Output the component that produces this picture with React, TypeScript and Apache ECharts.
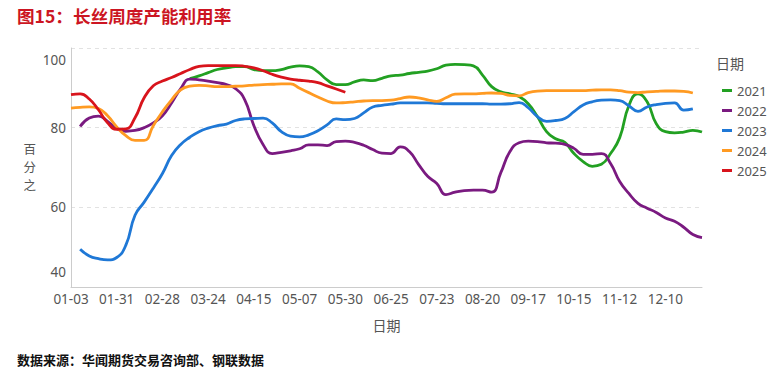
import React, { useEffect, useRef } from 'react';
import * as echarts from 'echarts';

const categories = [
  '01-03', '01-07', '01-13', '01-19', '01-25',
  '01-31', '02-06', '02-11', '02-17', '02-23',
  '02-28', '03-03', '03-09', '03-14', '03-19',
  '03-24', '03-28', '04-01', '04-06', '04-11',
  '04-15', '04-19', '04-24', '04-28', '05-02',
  '05-07', '05-11', '05-16', '05-21', '05-25',
  '05-30', '06-04', '06-09', '06-14', '06-20',
  '06-25', '07-01', '07-06', '07-12', '07-17',
  '07-23', '07-29', '08-03', '08-09', '08-14',
  '08-20', '08-26', '08-31', '09-06', '09-11',
  '09-17', '09-23', '09-28', '10-04', '10-09',
  '10-15', '10-21', '10-26', '11-01', '11-06',
  '11-12', '11-18', '11-23', '11-29', '12-04',
  '12-10', '12-16', '12-21', '12-27', '12-31',
];

const years = ['2021', '2022', '2023', '2024', '2025'];
const colors = ['#22a022', '#7a1a80', '#1f78d6', '#ff9a22', '#d8141c'];

// first category index where each series begins
const start2021 = 13;
const values2021 = [
  92.3, 93.0, 93.8, 94.6, 95.0, 95.3, 95.3, 94.6, 94.3, 94.3,
  94.6, 95.2, 95.5, 95.3, 94.0, 92.0, 90.8, 90.8, 91.5, 92.0,
  91.8, 92.4, 93.0, 93.2, 93.6, 93.9, 94.2, 94.8, 95.7, 95.9,
  95.8, 95.5, 93.2, 90.3, 89.0, 88.5, 87.8, 86.0, 82.8, 79.0,
  77.2, 76.3, 73.5, 71.5, 70.3, 70.8, 73.5, 77.5, 85.5, 88.5,
  86.5, 81.0, 79.0, 78.7, 78.9, 79.3, 78.9,
];

const start2022 = 1;
const values2022 = [
  80.3, 82.4, 82.9, 81.6, 79.8, 79.1, 79.3, 80.0, 81.2,
  83.0, 86.2, 89.8, 92.2, 92.0, 91.7, 91.3, 90.8, 89.8, 87.0,
  80.5, 75.8, 73.5, 73.8, 74.2, 74.7, 75.7, 75.7, 75.5, 76.5,
  76.6, 76.3, 75.6, 74.5, 73.6, 73.5, 75.2, 74.0, 70.8, 67.8,
  66.0, 63.2, 63.8, 64.2, 64.3, 64.3, 63.8, 68.7, 74.0, 76.2,
  76.6, 76.5, 76.2, 76.1, 75.8, 74.8, 73.3, 73.3, 73.5, 71.0,
  66.5, 63.5, 61.0, 59.8, 58.7, 57.3, 56.5, 55.0, 53.2, 52.4,
];

const start2023 = 1;
const values2023 = [
  49.5, 47.8, 47.1, 46.8, 47.4, 50.5, 58.0, 61.3, 64.8,
  68.5, 73.0, 75.8, 77.6, 79.0, 79.9, 80.5, 80.9, 81.8, 82.2,
  82.3, 82.4, 81.2, 79.0, 77.9, 77.7, 78.2, 79.2, 80.7, 82.2,
  82.0, 82.3, 83.7, 85.2, 85.6, 85.9, 86.2, 86.2, 86.2, 86.2,
  86.1, 86.0, 86.0, 86.0, 86.0, 86.0, 85.9, 85.9, 86.0, 86.3,
  85.0, 82.8, 81.6, 81.8, 82.3, 84.0, 85.7, 86.5, 86.9, 87.0,
  86.8, 85.5, 84.1, 85.2, 85.8, 86.1, 86.2, 84.4, 84.7,
];

const start2024 = 0;
const values2024 = [
  84.9, 85.1, 85.2, 84.8, 83.0, 80.2, 78.0, 76.8, 76.8, 80.5,
  84.0, 87.0, 89.5, 90.4, 90.6, 90.5, 90.3, 90.3, 90.4, 90.5,
  90.7, 90.8, 90.9, 91.0, 91.0, 89.9, 88.8, 87.7, 86.7, 86.2,
  86.3, 86.5, 86.7, 86.8, 86.8, 86.9, 87.3, 87.7, 87.5, 87.0,
  86.6, 87.5, 88.4, 88.5, 88.5, 88.6, 88.7, 88.6, 88.1, 88.0,
  88.8, 89.2, 89.3, 89.3, 89.3, 89.3, 89.3, 89.4, 89.5, 89.5,
  89.3, 88.9, 88.8, 89.0, 89.1, 89.2, 89.2, 89.1, 88.7,
];

const start2025 = 0;
const values2025 = [
  88.3, 88.5, 87.2, 84.5, 81.2, 79.6, 79.7, 82.5, 87.5, 90.5,
  91.7, 92.6, 93.6, 94.6, 95.4, 95.6, 95.6, 95.6, 95.6, 95.4,
  95.0, 94.3, 93.4, 92.7, 92.2, 91.9, 91.7, 91.3, 90.5, 89.7,
  88.9,
];

const yTicks = { min: 40, max: 100, interval: 20 };

const seriesInput: [number, number[]][] = [
  [start2021, values2021],
  [start2022, values2022],
  [start2023, values2023],
  [start2024, values2024],
  [start2025, values2025],
];

const padded = (start: number, vals: number[]) => {
  const arr: (number | null)[] = new Array(categories.length).fill(null);
  vals.forEach((v, i) => {
    arr[start + i] = v;
  });
  return arr;
};

const FONT = '"Noto Sans", "Noto Sans CJK SC", sans-serif';

export default function App() {
  const ref = useRef<HTMLDivElement>(null);
  useEffect(() => {
    const chart = echarts.init(ref.current!, null, { renderer: 'svg' });
    chart.setOption({
      animation: false,
      textStyle: { fontFamily: FONT },
      title: {
        text: '图15：长丝周度产能利用率',
        left: 17,
        top: 7,
        padding: 0,
        textStyle: {
          fontSize: 17.6,
          fontWeight: 'bold',
          color: '#cc1522',
          fontFamily: '"Noto Sans CJK SC", sans-serif',
        },
      },
      grid: { left: 71, right: 67, top: 48, bottom: 88, containLabel: false },
      legend: {
        orient: 'vertical',
        left: 717,
        top: 79,
        icon: 'rect',
        itemWidth: 10,
        itemHeight: 3,
        itemGap: 7,
        data: years,
        textStyle: { fontSize: 13, color: '#555', fontFamily: FONT },
      },
      xAxis: {
        type: 'category',
        data: categories,
        boundaryGap: false,
        name: '日期',
        nameLocation: 'middle',
        nameGap: 31,
        nameTextStyle: { fontSize: 14, color: '#555', fontFamily: FONT },
        axisLine: { lineStyle: { color: '#cccccc' } },
        axisTick: { show: false },
        axisLabel: { interval: 4, margin: 5, fontSize: 13.5, color: '#555', fontFamily: FONT },
        splitLine: { show: false },
      },
      yAxis: {
        type: 'value',
        min: yTicks.min,
        max: yTicks.max,
        interval: yTicks.interval,
        name: '百\n分\n之',
        nameLocation: 'middle',
        nameRotate: 0,
        nameGap: 35,
        nameTextStyle: { fontSize: 12.5, color: '#555', lineHeight: 18, fontFamily: FONT },
        axisLine: { show: true, lineStyle: { color: '#cccccc' } },
        axisTick: { show: false },
        axisLabel: {
          margin: 5,
          fontSize: 13.5,
          color: '#555',
          fontFamily: FONT,
          formatter: (v: number) =>
            v === yTicks.max ? `{t|${v}}` : v === yTicks.min ? `{b|${v}}` : `${v}`,
          rich: {
            t: { padding: [24, 0, 0, 0], fontSize: 13.5, color: '#555', fontFamily: FONT },
            b: { padding: [0, 0, 30, 0], fontSize: 13.5, color: '#555', fontFamily: FONT },
          },
        },
        splitLine: { show: true, lineStyle: { color: '#e2e2e2', type: [4, 4] } },
      },
      series: seriesInput.map(([start, vals], i) => ({
        name: years[i],
        type: 'line',
        data: padded(start, vals),
        smooth: true,
        showSymbol: false,
        symbol: 'none',
        lineStyle: { width: 2.8, color: colors[i] },
        itemStyle: { color: colors[i] },
      })),
      graphic: [
        {
          type: 'text',
          left: 716,
          top: 56,
          style: { text: '日期', fontSize: 14, fill: '#555', fontFamily: FONT },
        },
        {
          type: 'text',
          left: 17,
          top: 353,
          style: {
            text: '数据来源：华闻期货交易咨询部、钢联数据',
            fontSize: 13,
            fontWeight: 'bold',
            fill: '#111',
            fontFamily: '"Noto Sans CJK SC", sans-serif',
          },
        },
      ],
    });
    return () => chart.dispose();
  }, []);
  return (
    <div
      ref={ref}
      style={{ position: 'fixed', left: 0, top: 0, width: 769, height: 375, background: '#fff' }}
    />
  );
}
